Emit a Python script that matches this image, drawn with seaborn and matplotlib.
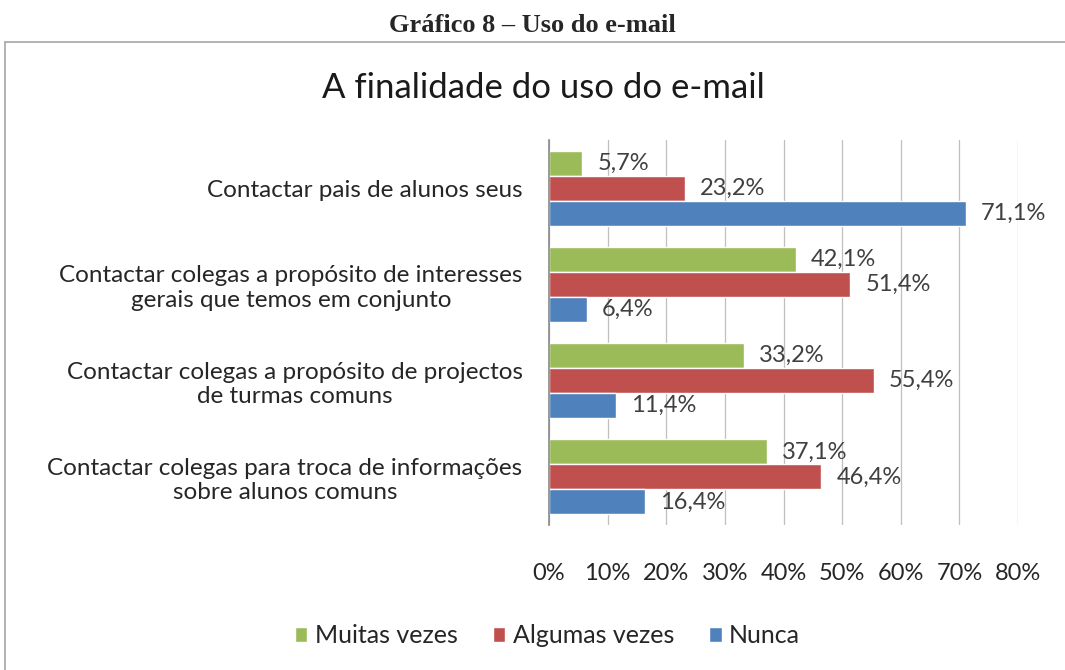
import pandas as pd
import seaborn as sns
from matplotlib import pyplot as plt
from matplotlib.lines import Line2D

# dados
categorias = [
    "Contactar pais de alunos seus",
    "Contactar colegas a propósito de interesses\ngerais que temos em conjunto",
    "Contactar colegas a propósito de projectos\nde turmas comuns",
    "Contactar colegas para troca de informações\nsobre alunos comuns",
]
muitas_vezes = [5.7, 42.1, 33.2, 37.1]
algumas_vezes = [23.2, 51.4, 55.4, 46.4]
nunca = [71.1, 6.4, 11.4, 16.4]
series = ["Muitas vezes", "Algumas vezes", "Nunca"]
cores = ["#9BBB59", "#C0504D", "#4F81BD"]
x_ticks = [0, 10, 20, 30, 40, 50, 60, 70, 80]

df = pd.DataFrame({
    "categoria": categorias * 3,
    "serie": [s for s in series for _ in categorias],
    "valor": muitas_vezes + algumas_vezes + nunca,
})

sns.set_theme(style="white")
plt.rcParams['font.family'] = ['Lato', 'DejaVu Sans']

fig = plt.figure(figsize=(10.65, 6.7), dpi=100)
ax = fig.add_axes([0.5155, 0.2164, 0.4404, 0.5746])

sns.barplot(data=df, y="categoria", x="valor", hue="serie", hue_order=series,
            order=categorias, palette=cores, width=0.78, orient="h",
            saturation=1, ax=ax)

for cont in ax.containers:
    labels = [f"{v:.1f}%".replace(".", ",") for v in cont.datavalues]
    ax.bar_label(cont, labels=labels, padding=11, fontsize=17, color="#404040")

ax.set_xlim(0, 80)
ax.set_xticks(x_ticks)
ax.set_xticklabels([f"{t}%" for t in x_ticks])
ax.set_xlabel("")
ax.set_ylabel("")
ax.xaxis.grid(True, color="#BFBFBF", lw=0.9)
ax.set_axisbelow(True)
for s in ["top", "right", "bottom"]:
    ax.spines[s].set_visible(False)
ax.spines["left"].set_color("#8C8C8C")
ax.tick_params(axis="x", length=0, pad=27, labelsize=17, labelcolor="#262626")
ax.tick_params(axis="y", length=0, pad=19, labelsize=17.5, labelcolor="#262626")
for lab in ax.get_yticklabels():
    lab.set_multialignment("center")

handles, labels = ax.get_legend_handles_labels()
ax.get_legend().remove()
fig.legend(handles, labels, loc="center", bbox_to_anchor=(0.514, 0.051), ncol=3,
           frameon=False, fontsize=18, handlelength=0.5, handleheight=0.5,
           handletextpad=0.3, columnspacing=1.4, labelcolor="#262626")

# moldura e títulos
fig.add_artist(Line2D([5 / 1065, 5 / 1065], [0, 1 - 42 / 670], color="#A6A6A6", lw=1.2))
fig.add_artist(Line2D([5 / 1065, 1], [1 - 42 / 670, 1 - 42 / 670], color="#A6A6A6", lw=1.2))
fig.text(0.5, 1 - 25 / 670, "Gráfico 8 – Uso do e-mail", ha="center", va="center",
         family="Liberation Serif", fontweight="bold", fontsize=19)
fig.text(0.51, 1 - 88 / 670, "A finalidade do uso do e-mail", ha="center", va="center",
         fontsize=25, color="#1a1a1a")

fig.savefig("out.png", dpi=100)
